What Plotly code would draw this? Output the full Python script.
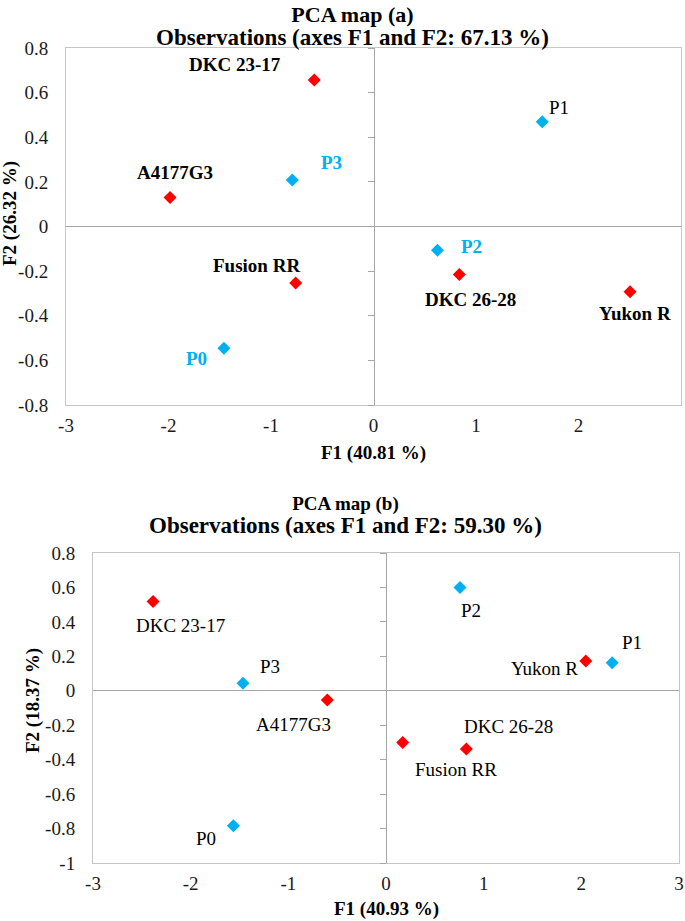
import plotly.graph_objects as go

# ---------------- data ----------------
names = ["DKC 23-17", "A4177G3", "Fusion RR", "DKC 26-28", "Yukon R", "P0", "P1", "P2", "P3"]
groups = ["variety", "variety", "variety", "variety", "variety", "treatment", "treatment", "treatment", "treatment"]

a_f1 = [-0.578, -1.985, -0.759, 0.837, 2.503, -1.459, 1.646, 0.624, -0.792]
a_f2 = [0.657, 0.130, -0.253, -0.215, -0.292, -0.546, 0.469, -0.106, 0.208]

b_f1 = [-2.385, -0.601, 0.171, 0.823, 2.046, -1.563, 2.316, 0.758, -1.464]
b_f2 = [0.519, -0.053, -0.301, -0.338, 0.173, -0.784, 0.163, 0.599, 0.043]

x_ticks = [-3, -2, -1, 0, 1, 2, 3]
a_y_ticks = [-0.8, -0.6, -0.4, -0.2, 0, 0.2, 0.4, 0.6, 0.8]
a_y_labels = ["-0.8", "-0.6", "-0.4", "-0.2", "0", "0.2", "0.4", "0.6", "0.8"]
b_y_ticks = [-1, -0.8, -0.6, -0.4, -0.2, 0, 0.2, 0.4, 0.6, 0.8]
b_y_labels = ["-1", "-0.8", "-0.6", "-0.4", "-0.2", "0", "0.2", "0.4", "0.6", "0.8"]

a_title1 = "PCA map (a)"
a_title2 = "Observations (axes F1 and F2: 67.13 %)"
a_xtitle = "F1 (40.81 %)"
a_ytitle = "F2 (26.32 %)"
b_title1 = "PCA map (b)"
b_title2 = "Observations (axes F1 and F2: 59.30 %)"
b_xtitle = "F1 (40.93 %)"
b_ytitle = "F2 (18.37 %)"

# ---------------- styles ----------------
W, H = 685, 921
FONT = "Liberation Serif, Times New Roman, serif"
RED = "#ff0000"
BLUE = "#00b0f0"
FRAME = "#c6c6c6"
ZERO = "#a6a6a6"
TICKC = "#1a1a1a"
color_of = {"variety": RED, "treatment": BLUE}

# label offsets in pixels (xshift, yshift)
a_off = {"DKC 23-17": (-79, 15), "A4177G3": (5, 25), "Fusion RR": (-39, 17),
         "DKC 26-28": (11, -25), "Yukon R": (5, -22), "P0": (-27, -10),
         "P1": (17, 14), "P2": (34, 4), "P3": (39, 18)}
a_style = {"P0": (BLUE, True), "P2": (BLUE, True), "P3": (BLUE, True), "P1": ("black", False)}
b_off = {"DKC 23-17": (27, -24), "A4177G3": (-34, -25), "Fusion RR": (53, -27),
         "DKC 26-28": (42, 22), "Yukon R": (-41, -8), "P0": (-27, -13),
         "P1": (20, 20), "P2": (11, -23), "P3": (27, 17)}

def px_x(p):
    return p / W

def px_y(p):
    return 1 - p / H

a_dom_x = [px_x(66), px_x(681)]
a_dom_y = [px_y(405), px_y(48)]
b_dom_x = [px_x(93), px_x(679)]
b_dom_y = [px_y(863), px_y(553)]

fig = go.Figure()

def add_points(f1, f2, xa, ya):
    fig.add_trace(go.Scatter(
        x=f1, y=f2, mode="markers", xaxis=xa, yaxis=ya,
        marker=dict(symbol="diamond", size=10, color=[color_of[g] for g in groups],
                    line=dict(width=0)),
        showlegend=False, hoverinfo="skip", cliponaxis=False))

add_points(a_f1, a_f2, "x", "y")
add_points(b_f1, b_f2, "x2", "y2")
# carriers for the centre (zero) axes with ticks
fig.add_trace(go.Scatter(x=[None], y=[None], xaxis="x", yaxis="y3", showlegend=False, hoverinfo="skip"))
fig.add_trace(go.Scatter(x=[None], y=[None], xaxis="x2", yaxis="y4", showlegend=False, hoverinfo="skip"))

tickfont = dict(family=FONT, size=19, color=TICKC)

def xaxis_cfg(dom, anchor):
    return dict(domain=dom, anchor=anchor, range=[-3, 3], tickvals=x_ticks,
                ticktext=[str(v) for v in x_ticks], showline=True, mirror=True,
                linecolor=FRAME, linewidth=1, showgrid=False, zeroline=False,
                ticks="outside", ticklen=3, tickcolor="rgba(0,0,0,0)",
                tickfont=tickfont, fixedrange=True, automargin=False)

def yaxis_cfg(dom, anchor, rng, tv, tt):
    return dict(domain=dom, anchor=anchor, range=rng, tickvals=tv, ticktext=tt,
                showline=True, mirror=True, linecolor=FRAME, linewidth=1,
                showgrid=False, zeroline=True, zerolinecolor=ZERO, zerolinewidth=1,
                ticks="outside", ticklen=13, tickcolor="rgba(0,0,0,0)",
                tickfont=tickfont, fixedrange=True, automargin=False)

def center_axis(over, rng, tv, pos):
    return dict(overlaying=over, anchor="free", position=pos, range=rng, tickvals=tv,
                showticklabels=False, ticks="outside", ticklen=6, tickcolor=ZERO,
                tickwidth=1, showline=True, linecolor=ZERO, linewidth=1,
                showgrid=False, zeroline=False, fixedrange=True, automargin=False)

fig.update_layout(
    template="none",
    width=W, height=H, margin=dict(l=0, r=0, t=0, b=0, pad=0, autoexpand=False),
    font=dict(family=FONT, color="black"),
    paper_bgcolor="white", plot_bgcolor="white",
    xaxis=xaxis_cfg(a_dom_x, "y"),
    yaxis=yaxis_cfg(a_dom_y, "x", [-0.8, 0.8], a_y_ticks, a_y_labels),
    xaxis2=xaxis_cfg(b_dom_x, "y2"),
    yaxis2=yaxis_cfg(b_dom_y, "x2", [-1, 0.8], b_y_ticks, b_y_labels),
    yaxis3=center_axis("y", [-0.8, 0.8], a_y_ticks, (a_dom_x[0] + a_dom_x[1]) / 2),
    yaxis4=center_axis("y2", [-1, 0.8], b_y_ticks, (b_dom_x[0] + b_dom_x[1]) / 2),
)

ann = []
# point labels
for i, n in enumerate(names):
    col, bold = a_style.get(n, ("black", True))
    dx, dy = a_off[n]
    txt = f"<b>{n}</b>" if bold else n
    ann.append(dict(x=a_f1[i], y=a_f2[i], xref="x", yref="y", text=txt, showarrow=False,
                    xshift=dx, yshift=dy, font=dict(family=FONT, size=19, color=col)))
for i, n in enumerate(names):
    dx, dy = b_off[n]
    ann.append(dict(x=b_f1[i], y=b_f2[i], xref="x2", yref="y2", text=n, showarrow=False,
                    xshift=dx, yshift=dy, font=dict(family=FONT, size=19, color="black")))

def ptext(text, x, y, size, angle=0):
    return dict(x=px_x(x), y=px_y(y), xref="paper", yref="paper", text=f"<b>{text}</b>",
                showarrow=False, xanchor="center", yanchor="middle", textangle=angle,
                font=dict(family=FONT, size=size, color="black"))

def title_block(t1, s1, t2, s2, x, ytop):
    txt = (f"<b><span style='font-size:{s1}px'>{t1}</span><br>"
           f"<span style='font-size:{s2}px'>{t2}</span></b>")
    return dict(x=px_x(x), y=px_y(ytop), xref="paper", yref="paper", text=txt,
                showarrow=False, xanchor="center", yanchor="top", align="center",
                font=dict(family=FONT, size=18, color="black"))

ann += [
    title_block(a_title1, 22, a_title2, 23, 352, 0),
    ptext(a_xtitle, 373.5, 453, 19),
    ptext(a_ytitle, 10, 214, 19, -90),
    title_block(b_title1, 19, b_title2, 23, 345, 491),
    ptext(b_xtitle, 386, 909, 19),
    ptext(b_ytitle, 33, 701, 19, -90),
]
fig.update_layout(annotations=ann)

fig.write_html("out.html",
               config={"displayModeBar": False, "staticPlot": True},
               post_script="document.body.style.margin='0px';document.body.style.overflow='hidden';")
